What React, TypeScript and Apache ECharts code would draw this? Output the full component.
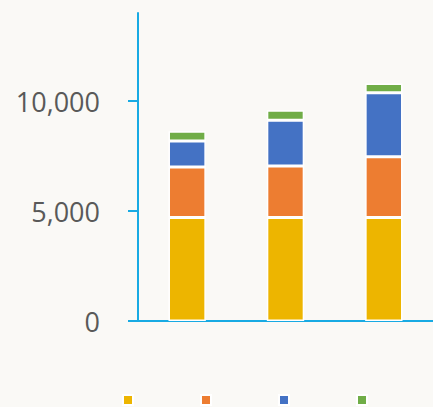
import React, { useEffect, useRef } from "react";
import * as echarts from "echarts";

const categories = ["A", "B", "C"];
const seriesNames = ["Series 1", "Series 2", "Series 3", "Series 4"];
const yellowValues = [4700, 4700, 4700];
const orangeValues = [2300, 2350, 2770];
const blueValues = [1180, 2080, 2910];
const greenValues = [440, 450, 420];
const yTicks = [0, 5000, 10000];
const colors = ["#edb500", "#ed7d31", "#4472c4", "#70ad47"];

export default function App() {
  const ref = useRef<HTMLDivElement>(null);
  useEffect(() => {
    if (!ref.current) return;
    const chart = echarts.init(ref.current, null, { renderer: "svg" });
    const data = [yellowValues, orangeValues, blueValues, greenValues];
    chart.setOption({
      animation: false,
      backgroundColor: "#faf9f6",
      color: colors,
      grid: { left: 138, right: -2, top: 13, bottom: 86, containLabel: false },
      legend: {
        top: 394,
        left: 122,
        padding: 0,
        itemWidth: 10,
        itemHeight: 10,
        itemGap: 66,
        icon: "rect",
        formatter: () => "",
        textStyle: { fontSize: 1, color: "transparent" },
        data: seriesNames,
      },
      xAxis: {
        type: "category",
        data: categories,
        axisLine: { lineStyle: { color: "#18aae3", width: 2 } },
        axisTick: { show: false },
        axisLabel: { show: false },
      },
      yAxis: {
        type: "value",
        min: 0,
        max: 14000,
        interval: 5000,
        splitLine: { show: false },
        axisLine: { show: true, lineStyle: { color: "#18aae3", width: 2 } },
        axisTick: { show: true, length: 10, lineStyle: { color: "#18aae3", width: 2 }, customValues: yTicks },
        axisLabel: {
          customValues: yTicks,
          margin: 38,
          color: "#595959",
          fontSize: 27,
          fontFamily: "Open Sans, sans-serif",
          formatter: (v: number) => v.toLocaleString("en-US"),
        },
      },
      series: data.map((d, i) => ({
        name: seriesNames[i],
        type: "bar",
        stack: "total",
        barWidth: "38%",
        data: d,
        itemStyle: { borderColor: "#ffffff", borderWidth: 1.5 },
      })),
    });
    return () => chart.dispose();
  }, []);
  return <div ref={ref} style={{ width: 433, height: 407, position: "absolute", left: 0, top: 0 }} />;
}
